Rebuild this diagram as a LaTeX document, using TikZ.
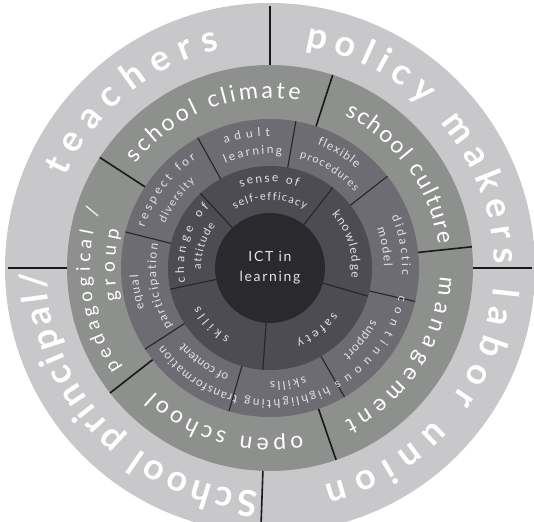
\documentclass[tikz,border=0pt]{standalone}
\usepackage{fontspec}
\setmainfont{Lato}
\newfontfamily\spacedfont[LetterSpace=12]{Lato}
\usetikzlibrary{decorations.text}

\definecolor{outerring}{HTML}{C8C8CA}
\definecolor{middlering}{HTML}{8E908E}
\definecolor{thirdring}{HTML}{6C6C72}
\definecolor{secondring}{HTML}{4C4C52}
\definecolor{corecircle}{HTML}{2A2A2E}
\definecolor{labelgray}{HTML}{E4E4E4}

\newcommand{\outerfont}{\fontsize{36}{36}\selectfont\bfseries\color{white}}
\newcommand{\middlefont}{\fontsize{23}{23}\selectfont\color{white}}
\newcommand{\pedfont}{\fontsize{19}{19}\selectfont\color{white}}
\newcommand{\ringfont}{\fontsize{12}{12}\selectfont\color{labelgray}}
\newcommand{\smallringfont}{\fontsize{11}{11}\selectfont\color{labelgray}}

\begin{document}
\begin{tikzpicture}[
    divider/.style={black!90, line width=1.6pt}, % Style for the outer dividers
    thindivider/.style={black!85, line width=1.1pt}, % Style for the inner dividers
    arclabel/.style={decoration={text along path, text={#1}, text align={fit to path}}, decorate} % Style for text on arcs
]
    \useasboundingbox (-270pt,-253pt) rectangle (264pt,268pt);

    % Rings, from the outside in
    \fill[outerring] (0,0) circle[radius=265pt];
    \fill[middlering] (0,0) circle[radius=203pt];
    \fill[thirdring] (0,0) circle[radius=149pt];
    \fill[secondring] (0,0) circle[radius=102pt];
    \fill[corecircle] (0,0) circle[radius=55pt];

    % Dividers
    \foreach \a in {0,90,180,268}
        \draw[divider] (\a:203pt) -- (\a:262pt);
    \foreach \a in {6,72,147,218,289}
        \draw[divider] (\a:149pt) -- (\a:203pt);
    \foreach \a in {38,80,119,166,213,254,300,347}
        \draw[thindivider] (\a:102pt) -- (\a:149pt);
    \foreach \a in {52,133,192,266,344}
        \draw[thindivider] (\a:55pt) -- (\a:102pt);

    % Outer ring labels
    \path[arclabel={|\outerfont|teachers}] (156:224pt) arc[start angle=156, end angle=103, radius=224pt];
    \path[arclabel={|\outerfont|policy makers}] (81:224pt) arc[start angle=81, end angle=1, radius=224pt];
    \path[arclabel={|\outerfont|labor union}] (-5:224pt) arc[start angle=-5, end angle=-76, radius=224pt];
    \path[arclabel={|\outerfont|School principal/}] (267:224pt) arc[start angle=267, end angle=181, radius=224pt];

    % Middle ring labels
    \path[arclabel={|\middlefont|school climate}] (142:170pt) arc[start angle=142, end angle=80, radius=170pt];
    \path[arclabel={|\middlefont|school culture}] (64:170pt) arc[start angle=64, end angle=8, radius=170pt];
    \path[arclabel={|\middlefont|management}] (-3:170pt) arc[start angle=-3, end angle=-64, radius=170pt];
    \path[arclabel={|\middlefont|open school}] (281:170pt) arc[start angle=281, end angle=227, radius=170pt];
    \path[arclabel={|\pedfont|pedagogical /}] (214:180pt) arc[start angle=214, end angle=161, radius=180pt];
    \path[arclabel={|\pedfont|group}] (192:155pt) arc[start angle=192, end angle=166, radius=155pt];

    % Third ring labels
    \path[arclabel={|\ringfont|respect for}] (162:132pt) arc[start angle=162, end angle=124, radius=132pt];
    \path[arclabel={|\smallringfont|diversity}] (157:114pt) arc[start angle=157, end angle=131, radius=114pt];
    \path[arclabel={|\ringfont|adult}] (110:132pt) arc[start angle=110, end angle=90, radius=132pt];
    \path[arclabel={|\ringfont|learning}] (113:114pt) arc[start angle=113, end angle=84, radius=114pt];
    \path[arclabel={|\ringfont|flexible}] (69:132pt) arc[start angle=69, end angle=49, radius=132pt];
    \path[arclabel={|\smallringfont|procedures}] (75:114pt) arc[start angle=75, end angle=42, radius=114pt];
    \path[arclabel={|\ringfont|didactic}] (23:132pt) arc[start angle=23, end angle=-3, radius=132pt];
    \path[arclabel={|\ringfont|model}] (20:114pt) arc[start angle=20, end angle=1, radius=114pt];
    \path[arclabel={|\ringfont|continuous}] (-12:132pt) arc[start angle=-12, end angle=-61, radius=132pt];
    \path[arclabel={|\ringfont|support}] (-27:114pt) arc[start angle=-27, end angle=-50, radius=114pt];
    \path[arclabel={|\ringfont|highlighting}] (296:132pt) arc[start angle=296, end angle=259, radius=132pt];
    \path[arclabel={|\ringfont|skills}] (288:114pt) arc[start angle=288, end angle=270, radius=114pt];
    \path[arclabel={|\ringfont|transformation}] (256:132pt) arc[start angle=256, end angle=216, radius=132pt];
    \path[arclabel={|\ringfont|of content}] (249:114pt) arc[start angle=249, end angle=221, radius=114pt];
    \path[arclabel={|\ringfont|equal}] (198:132pt) arc[start angle=198, end angle=183, radius=132pt];
    \path[arclabel={|\ringfont|participation}] (211:114pt) arc[start angle=211, end angle=168, radius=114pt];

    % Second ring labels
    \path[arclabel={|\ringfont|sense of}] (110:86pt) arc[start angle=110, end angle=71, radius=86pt];
    \path[arclabel={|\smallringfont|self-efficacy}] (121:68pt) arc[start angle=121, end angle=59, radius=68pt];
    \path[arclabel={|\ringfont|change of}] (190:86pt) arc[start angle=190, end angle=135, radius=86pt];
    \path[arclabel={|\smallringfont|attitude}] (181:69pt) arc[start angle=181, end angle=142, radius=69pt];
    \path[arclabel={|\ringfont|skills}] (240:80pt) arc[start angle=240, end angle=208, radius=80pt];
    \path[arclabel={|\ringfont|safety}] (-35:77pt) arc[start angle=-35, end angle=-70, radius=77pt];
    \path[arclabel={|\ringfont|knowledge}] (41:82pt) arc[start angle=41, end angle=-7, radius=82pt];

    % Core
    \node[text=labelgray, align=center, font=\spacedfont\fontsize{14}{20}\selectfont] (ict) at (0,0) {ICT in\\learning};

\end{tikzpicture}
\end{document}
